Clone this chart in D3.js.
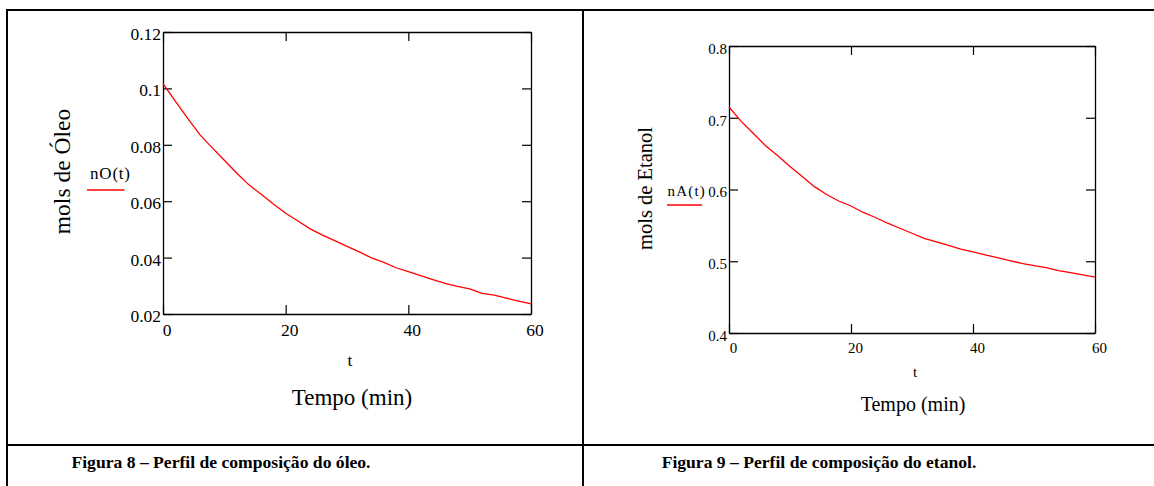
<!DOCTYPE html>
<html>
<head>
<meta charset="utf-8">
<script src="https://cdn.jsdelivr.net/npm/d3@7"></script>
<style>
  html, body { margin: 0; padding: 0; background: #fff; }
  svg { display: block; }
  text { font-family: "Liberation Serif", "Times New Roman", serif; }
</style>
</head>
<body>
<svg id="chart" width="1154" height="486"></svg>
<script>
// ---------------- DATA ----------------
const minutes = [0, 2, 4, 6, 8, 10, 12, 14, 16, 18, 20, 22, 24, 26, 28, 30,
                 32, 34, 36, 38, 40, 42, 44, 46, 48, 50, 52, 54, 56, 58, 60];
const oilMols = [0.1017, 0.0955, 0.0895, 0.0836, 0.0790, 0.0745, 0.0700, 0.0658,
                 0.0625, 0.0590, 0.0557, 0.0530, 0.0502, 0.0480, 0.0460, 0.0440,
                 0.0420, 0.0399, 0.0383, 0.0364, 0.0350, 0.0336, 0.0322, 0.0309,
                 0.0298, 0.0289, 0.0273, 0.0267, 0.0256, 0.0246, 0.0236];
const ethanolMols = [0.715, 0.695, 0.678, 0.661, 0.647, 0.632, 0.618, 0.604,
                     0.593, 0.584, 0.577, 0.568, 0.561, 0.553, 0.546, 0.539,
                     0.532, 0.527, 0.522, 0.517, 0.513, 0.509, 0.505, 0.501,
                     0.497, 0.494, 0.491, 0.487, 0.484, 0.481, 0.478];
const timeTicks = [0, 20, 40, 60];
const timeTickLabels = ["0", "20", "40", "60"];
const oilTicks = [0.02, 0.04, 0.06, 0.08, 0.1, 0.12];
const oilTickLabels = ["0.02", "0.04", "0.06", "0.08", "0.1", "0.12"];
const ethanolTicks = [0.4, 0.5, 0.6, 0.7, 0.8];
const ethanolTickLabels = ["0.4", "0.5", "0.6", "0.7", "0.8"];

// ---------------- DRAWING ----------------
const svg = d3.select("#chart");
const FONT = "Liberation Serif, Times New Roman, serif";

svg.append("rect").attr("width", 1154).attr("height", 486).attr("fill", "#fff");

// table borders
const border = svg.append("g").attr("stroke", "#000").attr("stroke-width", 2);
border.append("line").attr("x1", 6).attr("x2", 1154).attr("y1", 10).attr("y2", 10);
border.append("line").attr("x1", 7).attr("x2", 7).attr("y1", 9).attr("y2", 486);
border.append("line").attr("x1", 583).attr("x2", 583).attr("y1", 9).attr("y2", 486);
border.append("line").attr("x1", 6).attr("x2", 1154).attr("y1", 445).attr("y2", 445);

function styleAxis(sel, fontSize) {
  sel.attr("font-family", FONT).attr("font-size", fontSize);
  sel.selectAll("path.domain").attr("stroke", "#000").attr("stroke-width", 1.3);
  sel.selectAll(".tick line").attr("stroke", "#000").attr("stroke-width", 1.2);
  sel.selectAll(".tick text").attr("fill", "#000")
    .attr("font-family", FONT).attr("font-size", fontSize);
}

function panel(o) {
  const g = svg.append("g");
  const x = d3.scaleLinear().domain([0, 60]).range([o.left, o.right]);
  const y = d3.scaleLinear().domain([o.ymin, o.ymax]).range([o.bottom, o.top]);

  // bottom axis
  g.append("g").attr("transform", `translate(0,${o.bottom})`)
    .call(d3.axisBottom(x).tickValues(timeTicks)
      .tickFormat((d, i) => timeTickLabels[i])
      .tickSizeInner(-9).tickSizeOuter(0).tickPadding(o.xPad))
    .call(s => styleAxis(s, o.tickFont))
    .call(s => s.selectAll(".tick text").attr("x", o.xShift));

  // top axis
  g.append("g").attr("transform", `translate(0,${o.top})`)
    .call(d3.axisTop(x).tickValues(timeTicks).tickFormat("")
      .tickSizeInner(-9).tickSizeOuter(0))
    .call(s => styleAxis(s, o.tickFont));

  // left axis
  g.append("g").attr("transform", `translate(${o.left},0)`)
    .call(d3.axisLeft(y).tickValues(o.yTicks)
      .tickFormat((d, i) => o.yLabels[i])
      .tickSizeInner(-9).tickSizeOuter(0).tickPadding(o.yPad))
    .call(s => styleAxis(s, o.tickFont))
    .call(s => s.selectAll(".tick text").attr("dy", o.yDy));

  // right axis
  g.append("g").attr("transform", `translate(${o.right},0)`)
    .call(d3.axisRight(y).tickValues(o.yTicks).tickFormat("")
      .tickSizeInner(-9).tickSizeOuter(0))
    .call(s => styleAxis(s, o.tickFont));

  // curve
  g.append("path")
    .datum(minutes.map((t, i) => [t, o.values[i]]))
    .attr("fill", "none")
    .attr("stroke", "#ff0000")
    .attr("stroke-width", 1.3)
    .attr("d", d3.line().x(d => x(d[0])).y(d => y(d[1])));

  // legend
  g.append("text").attr("x", o.legendX).attr("y", o.legendY)
    .attr("text-anchor", o.legendAnchor)
    .attr("font-family", FONT).attr("font-size", o.legendFont)
    .attr("letter-spacing", o.legendSpacing)
    .text(o.legendText);
  g.append("line").attr("x1", o.legLine[0]).attr("x2", o.legLine[1])
    .attr("y1", o.legLine[2]).attr("y2", o.legLine[2])
    .attr("stroke", "#ff0000").attr("stroke-width", 1.3);

  // "t"
  g.append("text").attr("x", o.tX).attr("y", o.tY).attr("text-anchor", "middle")
    .attr("font-family", FONT).attr("font-size", o.tickFont).text("t");

  // x title
  g.append("text").attr("x", o.xtX).attr("y", o.xtY).attr("text-anchor", "middle")
    .attr("font-family", FONT).attr("font-size", o.titleFont).text("Tempo (min)");

  // y title
  g.append("text")
    .attr("transform", `translate(${o.ytX},${o.ytY}) rotate(-90)`)
    .attr("text-anchor", "middle")
    .attr("font-family", FONT).attr("font-size", o.yTitleFont).text(o.yTitle);

  // caption
  g.append("text").attr("x", o.capX).attr("y", 468).attr("text-anchor", "middle")
    .attr("font-family", FONT).attr("font-weight", "bold").attr("font-size", 17.6)
    .text(o.caption);
}

panel({
  left: 163, right: 531, top: 32, bottom: 314,
  ymin: 0.02, ymax: 0.12, yTicks: oilTicks, yLabels: oilTickLabels,
  values: oilMols,
  tickFont: 17.5, xPad: 9.5, xShift: 3.5, yPad: 2, yDy: "0.43em",
  legendText: "nO(t)", legendX: 90, legendY: 179, legendAnchor: "start",
  legendFont: 17, legendSpacing: 0.8, legLine: [87, 124.5, 190],
  tX: 350, tY: 366,
  xtX: 352, xtY: 405, titleFont: 23,
  ytX: 70, ytY: 171.5, yTitleFont: 23.5, yTitle: "mols de Óleo",
  capX: 221, caption: "Figura 8 – Perfil de composição do óleo."
});

panel({
  left: 729, right: 1095, top: 46, bottom: 333,
  ymin: 0.4, ymax: 0.8, yTicks: ethanolTicks, yLabels: ethanolTickLabels,
  values: ethanolMols,
  tickFont: 15, xPad: 9, xShift: 4, yPad: 2, yDy: "0.49em",
  legendText: "nA(t)", legendX: 706, legendY: 196, legendAnchor: "end",
  legendFont: 15, legendSpacing: 1.2, legLine: [667, 702, 205],
  tX: 915, tY: 377,
  xtX: 913, xtY: 411, titleFont: 20,
  ytX: 652, ytY: 188.5, yTitleFont: 20.5, yTitle: "mols de Etanol",
  capX: 819, caption: "Figura 9 – Perfil de composição do etanol."
});
</script>
</body>
</html>
